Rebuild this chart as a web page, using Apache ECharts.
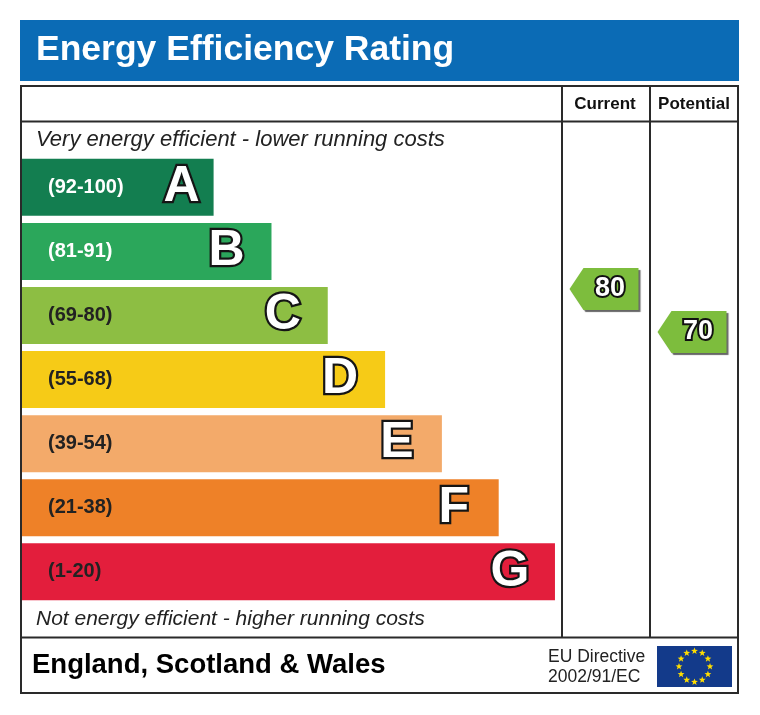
<!DOCTYPE html>
<html><head><meta charset="utf-8">
<script src="https://cdn.jsdelivr.net/npm/echarts/dist/echarts.min.js"></script>
<style>html,body{margin:0;padding:0;background:#fff}#c{width:760px;height:715px}</style>
</head><body><div id="c"></div>
<script>
// ---- data ----
const bands = ['A', 'B', 'C', 'D', 'E', 'F', 'G'];
const ranges = ['(92-100)', '(81-91)', '(69-80)', '(55-68)', '(39-54)', '(21-38)', '(1-20)'];
const barLengths = [35.6, 46.3, 56.7, 67.3, 77.8, 88.3, 98.7];
const bandColors = ['#137e50', '#2ba75b', '#8dbe43', '#f6cb17', '#f3aa6a', '#ee8128', '#e31e3c'];
const rangeTextColors = ['#ffffff', '#ffffff', '#222222', '#222222', '#222222', '#222222', '#222222'];
const ratingColumns = ['Current', 'Potential'];
const ratingValues = [80, 70];
const ratingColors = ['#7dbd3d', '#7dbd3d'];

const FONT = '"Liberation Sans", Arial, Helvetica, sans-serif';

// ---- decoration (flag stars) ----
function starPoints(cx, cy, ro, ri) {
  const pts = [];
  for (let k = 0; k < 10; k++) {
    const r = k % 2 === 0 ? ro : ri;
    const a = -Math.PI / 2 + k * Math.PI / 5;
    pts.push([cx + r * Math.cos(a), cy + r * Math.sin(a)]);
  }
  return pts;
}
const flagStars = [];
for (let i = 0; i < 12; i++) {
  const a = -Math.PI / 2 + i * Math.PI / 6;
  flagStars.push({
    type: 'polygon', z: 101,
    shape: { points: starPoints(694.5 + 15.5 * Math.cos(a), 666.5 + 15.5 * Math.sin(a), 3.6, 1.5) },
    style: { fill: '#ffdd00' }
  });
}

const chart = echarts.init(document.getElementById('c'), null, { renderer: 'canvas' });
chart.setOption({
  animation: false,
  backgroundColor: '#ffffff',
  grid: [
    { left: 21, top: 155.3, width: 541, height: 448.6 },
    { left: 560, top: 203, width: 176, height: 430 }
  ],
  xAxis: [
    { gridIndex: 0, type: 'value', min: 0, max: 100, show: false },
    { gridIndex: 1, type: 'category', data: ratingColumns, show: false }
  ],
  yAxis: [
    { gridIndex: 0, type: 'category', data: bands, inverse: true, show: false },
    { gridIndex: 1, type: 'value', min: 0, max: 100, show: false }
  ],
  series: [
    {
      type: 'bar', xAxisIndex: 0, yAxisIndex: 0, barWidth: 57, barGap: '-100%', silent: true,
      data: barLengths.map((v, i) => ({
        value: v,
        itemStyle: { color: bandColors[i] },
        label: { distance: i === 0 ? 32 : 45 }
      })),
      label: {
        show: true, position: 'insideRight', align: 'center', formatter: '{b}',
        fontFamily: FONT, fontSize: 50, fontWeight: 'bold', color: '#ffffff',
        textBorderColor: '#151515', textBorderWidth: 4.5
      }
    },
    {
      type: 'bar', xAxisIndex: 0, yAxisIndex: 0, barWidth: 57, barGap: '-100%', silent: true,
      data: barLengths.map((v, i) => ({
        value: v,
        label: { color: rangeTextColors[i] }
      })),
      itemStyle: { color: 'rgba(0,0,0,0)' },
      label: {
        show: true, position: 'insideLeft', distance: 27,
        formatter: p => ranges[p.dataIndex],
        fontFamily: FONT, fontSize: 20, fontWeight: 'bold'
      }
    },
    {
      type: 'scatter', xAxisIndex: 1, yAxisIndex: 1, silent: true,
      symbol: 'path://M0,21L14,0L69,0L69,42L14,42Z', symbolSize: [69, 42],
      data: ratingColumns.map((c, i) => ({
        value: [c, ratingValues[i]],
        itemStyle: { color: ratingColors[i] }
      })),
      itemStyle: { shadowColor: 'rgba(0,0,0,0.6)', shadowOffsetX: 2, shadowOffsetY: 2, shadowBlur: 1, opacity: 1 },
      label: {
        show: true, position: 'inside', offset: [6, 0],
        formatter: p => String(p.value[1]),
        fontFamily: FONT, fontSize: 27, fontWeight: 'bold', color: '#ffffff',
        textBorderColor: '#111111', textBorderWidth: 4
      }
    }
  ],
  graphic: [
    { type: 'rect', z: 100, shape: { x: 20, y: 20, width: 719, height: 61 }, style: { fill: '#0b6bb5' } },
    { type: 'text', z: 101, style: { x: 36, y: 50, text: 'Energy Efficiency Rating', fontFamily: FONT, fontSize: 35.5, fontWeight: 'bold', fill: '#ffffff', align: 'left', verticalAlign: 'middle' } },
    { type: 'rect', z: 100, shape: { x: 21, y: 86, width: 717, height: 607 }, style: { fill: 'none', stroke: '#2a2a2a', lineWidth: 2 } },
    { type: 'line', z: 100, shape: { x1: 21, y1: 121.5, x2: 738, y2: 121.5 }, style: { stroke: '#2a2a2a', lineWidth: 2 } },
    { type: 'line', z: 100, shape: { x1: 21, y1: 637.5, x2: 738, y2: 637.5 }, style: { stroke: '#2a2a2a', lineWidth: 2 } },
    { type: 'line', z: 100, shape: { x1: 562, y1: 86, x2: 562, y2: 637.5 }, style: { stroke: '#2a2a2a', lineWidth: 2 } },
    { type: 'line', z: 100, shape: { x1: 650, y1: 86, x2: 650, y2: 637.5 }, style: { stroke: '#2a2a2a', lineWidth: 2 } },
    { type: 'text', z: 101, style: { x: 605, y: 104, text: 'Current', fontFamily: FONT, fontSize: 17, fontWeight: 'bold', fill: '#111', align: 'center', verticalAlign: 'middle' } },
    { type: 'text', z: 101, style: { x: 694, y: 104, text: 'Potential', fontFamily: FONT, fontSize: 17, fontWeight: 'bold', fill: '#111', align: 'center', verticalAlign: 'middle' } },
    { type: 'text', z: 101, style: { x: 36, y: 140, text: 'Very energy efficient - lower running costs', fontFamily: FONT, fontSize: 22, fontStyle: 'italic', fill: '#222', align: 'left', verticalAlign: 'middle' } },
    { type: 'text', z: 101, style: { x: 36, y: 619, text: 'Not energy efficient - higher running costs', fontFamily: FONT, fontSize: 21, fontStyle: 'italic', fill: '#222', align: 'left', verticalAlign: 'middle' } },
    { type: 'text', z: 101, style: { x: 32, y: 665, text: 'England, Scotland & Wales', fontFamily: FONT, fontSize: 27.5, fontWeight: 'bold', fill: '#000', align: 'left', verticalAlign: 'middle' } },
    { type: 'text', z: 101, style: { x: 548, y: 657, text: 'EU Directive', fontFamily: FONT, fontSize: 17.5, fill: '#222', align: 'left', verticalAlign: 'middle' } },
    { type: 'text', z: 101, style: { x: 548, y: 677, text: '2002/91/EC', fontFamily: FONT, fontSize: 17.5, fill: '#222', align: 'left', verticalAlign: 'middle' } },
    { type: 'rect', z: 100, shape: { x: 657, y: 646, width: 75, height: 41 }, style: { fill: '#133a8a' } }
  ].concat(flagStars)
});
</script>
</body></html>
